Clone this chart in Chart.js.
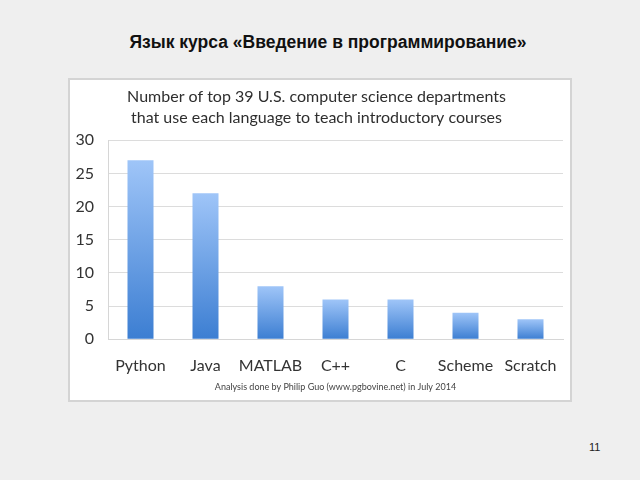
<!DOCTYPE html>
<html>
<head>
<meta charset="utf-8">
<script src="https://cdn.jsdelivr.net/npm/chart.js@4"></script>
<style>
  html, body { margin: 0; padding: 0; }
  body { width: 640px; height: 480px; background: #efefef; position: relative; overflow: hidden; font-family: "Liberation Sans", Arial, sans-serif; }
  .slide-title { position: absolute; left: 0; width: 656px; top: 32px; text-align: center; font-size: 17.5px; font-weight: bold; color: #111; }
  .box { position: absolute; left: 68px; top: 78px; width: 500px; height: 320px; background: #fff; border: 2px solid #d4d4d4; }
  .page-num { position: absolute; left: 589px; top: 441px; font-size: 11px; color: #222; }
</style>
</head>
<body>
<div class="slide-title">Язык курса «Введение в программирование»</div>
<div class="box"><canvas id="myChart" width="500" height="320"></canvas></div>
<div class="page-num">11</div>
<script>
// Data
const languages = ["Python", "Java", "MATLAB", "C++", "C", "Scheme", "Scratch"];
const departments = [27, 22, 8, 6, 6, 4, 3];
const yTicks = [0, 5, 10, 15, 20, 25, 30];

const chartTitle = [
  "Number of top 39 U.S. computer science departments",
  "that use each language to teach introductory courses",
];
const footer = "Analysis done by Philip Guo (www.pgbovine.net) in July 2014";

const FONT = "Lato, 'Open Sans', sans-serif";

function barGradient(context) {
  const chart = context.chart;
  const area = chart.chartArea;
  if (!area) return "#6a9fe4";
  const y0 = chart.scales.y.getPixelForValue(context.raw || 0);
  const g = chart.ctx.createLinearGradient(0, y0, 0, area.bottom);
  g.addColorStop(0, "#9fc5f8");
  g.addColorStop(1, "#3c7ed2");
  return g;
}

new Chart("myChart", {
  type: "bar",
  data: {
    labels: languages,
    datasets: [
      {
        data: departments,
        backgroundColor: barGradient,
        borderWidth: 0,
        barPercentage: 0.4,
        categoryPercentage: 1,
      },
    ],
  },
  options: {
    responsive: false,
    animation: false,
    layout: { padding: { left: 0, right: 7, top: 0, bottom: 2 } },
    plugins: {
      legend: { display: false },
      tooltip: { enabled: false },
      title: {
        display: true,
        text: chartTitle,
        color: "#2e2e2e",
        font: { family: FONT, size: 16, weight: "normal", lineHeight: 1.32 },
        padding: { top: 6, bottom: 12 },
      },
      subtitle: {
        display: true,
        position: "bottom",
        fullSize: false,
        text: footer,
        color: "#444",
        font: { family: FONT, size: 9, weight: "normal" },
        padding: { top: 2, bottom: 6 },
      },
    },
    scales: {
      x: {
        grid: { display: false },
        border: { color: "#d6d6d6", width: 1 },
        ticks: { color: "#333", font: { family: FONT, size: 16 }, padding: 9, maxRotation: 0, autoSkip: false },
        afterFit: (axis) => { axis.height = 40; },
      },
      y: {
        min: 0,
        max: 30,
        afterBuildTicks: (axis) => { axis.ticks = yTicks.map((v) => ({ value: v })); },
        afterFit: (axis) => { axis.width = 38; },
        grid: { color: "#dcdcdc", drawTicks: false },
        border: { color: "#d6d6d6", width: 1 },
        ticks: { color: "#333", font: { family: FONT, size: 16 }, padding: 14 },
      },
    },
  },
});
</script>
</body>
</html>
